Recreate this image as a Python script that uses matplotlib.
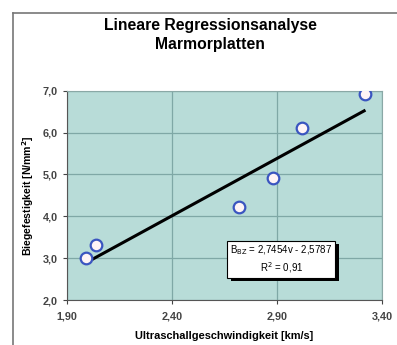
import matplotlib
matplotlib.use("Agg")
import matplotlib.pyplot as plt
import matplotlib.patheffects as pe
from matplotlib.lines import Line2D

# data
geschwindigkeit = [1.99, 2.04, 2.72, 2.88, 3.02, 3.32]   # km/s
festigkeit = [3.00, 3.31, 4.22, 4.92, 6.12, 6.92]        # N/mm²
slope = 2.7454
intercept = -2.5787
r_squared = "0,91"

x_ticks = [1.90, 2.40, 2.90, 3.40]
y_ticks = [2.0, 3.0, 4.0, 5.0, 6.0, 7.0]

plt.rcParams['font.family'] = ['Liberation Sans', 'DejaVu Sans']

fig = plt.figure(figsize=(3.97, 3.45), dpi=100)
ax = fig.add_axes([66.7 / 397, 45 / 345, (382.3 - 66.7) / 397, (300 - 90.7) / 345])
ax.set_facecolor("#b8dcd8")

# outer chart frame
top = 1 - 13 / 345
left = 13 / 397
fig.add_artist(Line2D([left, 1], [top, top], color="#777777", lw=1.2, transform=fig.transFigure))
fig.add_artist(Line2D([left, left], [0, top], color="#777777", lw=1.2, transform=fig.transFigure))

ax.grid(True, color="#7fa8a6", lw=0.9)
ax.set_axisbelow(True)

x_fit = [min(geschwindigkeit), max(geschwindigkeit)]
y_fit = [slope * v + intercept for v in x_fit]
ax.plot(x_fit, y_fit, color="black", lw=2.2, solid_capstyle="butt", zorder=3)
ax.scatter(geschwindigkeit, festigkeit, s=70, facecolor="#fff4f6", edgecolor="#3a55c0",
           linewidth=1.6, zorder=4)

ax.set_xlim(1.90, 3.40)
ax.set_ylim(2.0, 7.0)
ax.set_xticks(x_ticks)
ax.set_yticks(y_ticks)
ax.set_xticklabels([f"{t:.2f}".replace(".", ",") for t in x_ticks])
ax.set_yticklabels([f"{t:.1f}".replace(".", ",") for t in y_ticks])
ax.tick_params(labelsize=7.8, colors="#444444", length=3, width=0.8)
ax.tick_params(axis="x", pad=5)
for lab in ax.get_xticklabels() + ax.get_yticklabels():
    lab.set_fontweight("bold")
for side in ["left", "bottom"]:
    ax.spines[side].set_color("#555555")
for side in ["top", "right"]:
    ax.spines[side].set_color("#8aa8a6")

ax.set_xlabel("Ultraschallgeschwindigkeit [km/s]", fontsize=7.9, fontweight="bold", labelpad=7)
ax.set_ylabel("Biegefestigkeit [N/mm$^\\mathbf{2}$]", fontsize=7.6, fontweight="bold", labelpad=5)

fig.text(0.53, 1 - 35 / 345, "Lineare Regressionsanalyse\nMarmorplatten", ha="center", va="center",
         fontsize=11.3, fontweight="bold", linespacing=1.35)

eq = (f"B$_{{\\mathrm{{BZ}}}}$ = {slope:.4f}v - {abs(intercept):.4f}".replace(".", ",")
      + f"\nR$^{{2}}$ = {r_squared}")
box = ax.text(2.92, 2.97, eq, ha="center", va="center", fontsize=7, linespacing=1.25, zorder=6,
              bbox=dict(boxstyle="square,pad=0.3", facecolor="white", edgecolor="black", lw=0.8))
box.get_bbox_patch().set_path_effects([
    pe.SimplePatchShadow(offset=(2.5, -2.5), shadow_rgbFace="black", alpha=1.0),
    pe.Normal(),
])

fig.savefig("out.png", dpi=100, facecolor="white")
